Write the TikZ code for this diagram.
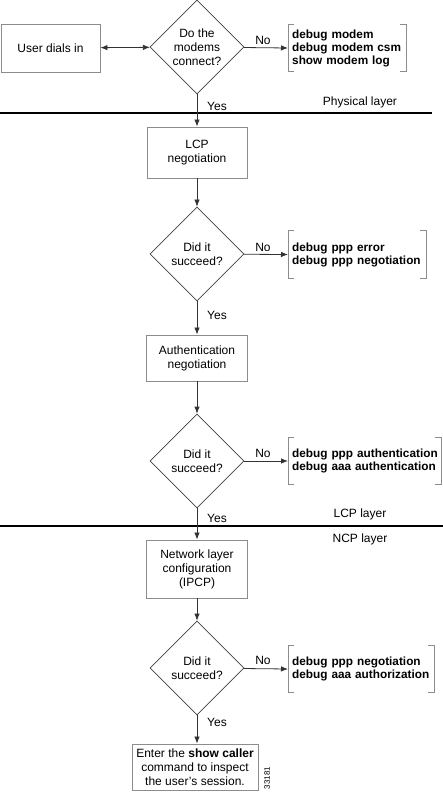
\documentclass[tikz,border=0pt]{standalone}
\usepackage{fontspec}
\setmainfont{Liberation Sans}
\usetikzlibrary{shapes.geometric,arrows.meta}
\begin{document}
\begin{tikzpicture}[x=1pt,y=-1pt,
  every node/.style={font=\fontsize{12}{14}\selectfont},
  procbox/.style={draw=black!45, line width=0.9pt, rectangle, align=center, inner sep=0pt},
  decision/.style={draw=black!75, line width=0.8pt, diamond, aspect=1, minimum size=94pt, inner sep=0pt, align=center},
  cmdbox/.style={rectangle, align=left, inner xsep=4pt, inner ysep=0pt, minimum height=47pt, anchor=west,
    font=\fontsize{11.8}{13}\selectfont\bfseries},
  brk/.style={draw=black!45, line width=1pt},
  flow/.style={draw=black!80, line width=0.8pt, -{Latex[length=7pt,width=5.5pt]}},
  lbl/.style={inner sep=0pt},
  layerline/.style={line width=2.4pt, black}
]
\useasboundingbox (0,0) rectangle (443,793);

% nodes
\node[procbox, minimum width=99pt, minimum height=48pt] (user) at (50.5,48) {User dials in};
\node[decision] (d1) at (197,47) {Do the\\modems\\connect?};
\node[cmdbox, text width=110pt] (b1) at (288,48) {\mbox{debug modem}\\\mbox{debug modem csm}\\\mbox{show modem log}};

\node[procbox, minimum width=100pt, minimum height=51pt] (lcp) at (197,152.5) {LCP\\negotiation};
\node[decision] (d2) at (197,254) {Did it\\succeed?};
\node[cmdbox, text width=130pt] (b2) at (288,254.5) {\mbox{debug ppp error}\\\mbox{debug ppp negotiation}};

\node[procbox, minimum width=101pt, minimum height=46pt] (auth) at (197,358) {Authentication\\negotiation};
\node[decision] (d3) at (197,461) {Did it\\succeed?};
\node[cmdbox, text width=145pt] (b3) at (288,461) {\mbox{debug ppp authentication}\\\mbox{debug aaa authentication}};

\node[procbox, minimum width=101pt, minimum height=58pt] (net) at (197,569) {Network layer\\configuration\\(IPCP)};
\node[decision] (d4) at (197,668) {Did it\\succeed?};
\node[cmdbox, text width=138pt] (b4) at (288,669) {\mbox{debug ppp negotiation}\\\mbox{debug aaa authorization}};

\node[procbox, minimum width=126pt, minimum height=46pt] (final) at (195,767) {Enter the \textbf{show caller}\\command to inspect\\the user's session.};
\node[lbl, rotate=90, font=\fontsize{8}{9}\selectfont] (num) at (267,778) {33181};

% brackets
\foreach \b in {b1,b2,b3,b4}{
  \draw[brk] ([xshift=6pt]\b.north west) -- (\b.north west) -- (\b.south west) -- ([xshift=6pt]\b.south west);
  \draw[brk] ([xshift=-6pt]\b.north east) -- (\b.north east) -- (\b.south east) -- ([xshift=-6pt]\b.south east);
}

% layer lines
\coordinate (l1a) at (0,113);
\coordinate (l1b) at (432,113);
\coordinate (l2a) at (0,526);
\coordinate (l2b) at (443,526);
\draw[layerline] (l1a) -- (l1b);
\draw[layerline] (l2a) -- (l2b);
\node[lbl] (phys) at (360,102) {Physical layer};
\node[lbl] (lcpl) at (360,514) {LCP layer};
\node[lbl] (ncpl) at (360,539) {NCP layer};

% connectors
\draw[flow, {Latex[length=7pt,width=5.5pt]}-{Latex[length=7pt,width=5.5pt]}] (user) -- (d1);
\draw[flow] (d1) -- (b1.west);
\draw[flow] (d1) -- (lcp);
\draw[flow] (lcp) -- (d2);
\draw[flow] (d2) -- (b2.west);
\draw[flow] (d2) -- (auth);
\draw[flow] (auth) -- (d3);
\draw[flow] (d3) -- (b3.west);
\draw[flow] (d3) -- (net);
\draw[flow] (net) -- (d4);
\draw[flow] (d4) -- (b4.west);
\draw[flow] (d4.south) -- (d4.south |- final.north);

% labels
\node[lbl] (no1) at (263,40) {No};
\node[lbl] (no2) at (263,247) {No};
\node[lbl] (no3) at (263,453) {No};
\node[lbl] (no4) at (263,660) {No};
\node[lbl] (y1) at (217,106) {Yes};
\node[lbl] (y2) at (217,315) {Yes};
\node[lbl] (y3) at (217,518) {Yes};
\node[lbl] (y4) at (217,722) {Yes};
\end{tikzpicture}
\end{document}
